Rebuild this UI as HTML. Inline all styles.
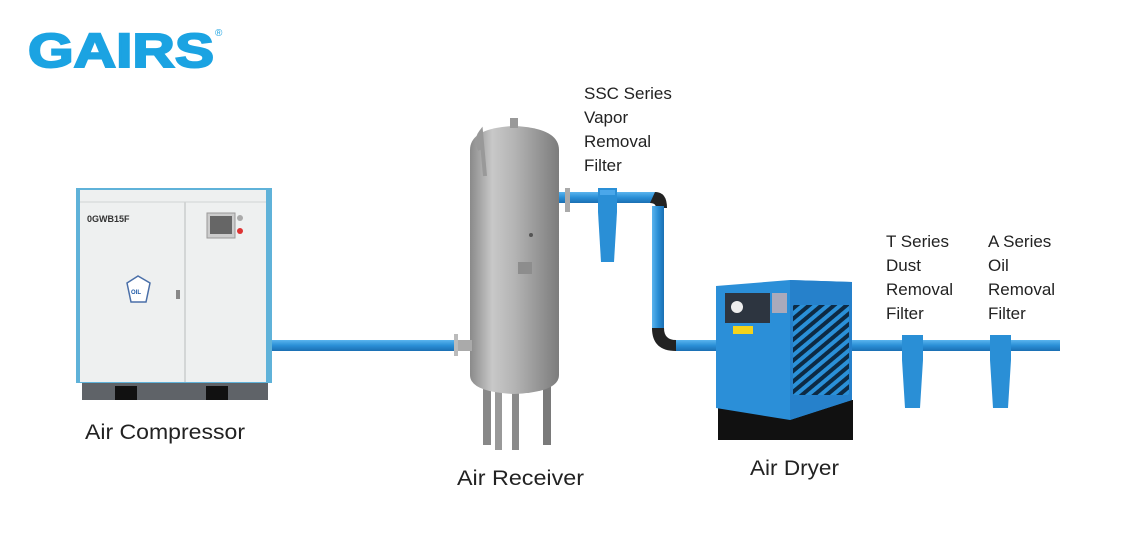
<!DOCTYPE html>
<html><head><style>
body{margin:0;background:#fff;}
svg{display:block}
text{font-family:"Liberation Sans",sans-serif;fill:#222}
</style></head><body>
<svg width="1140" height="550" viewBox="0 0 1140 550" xmlns="http://www.w3.org/2000/svg">
<defs>
<linearGradient id="tank" x1="0" x2="1">
<stop offset="0" stop-color="#8a8a8a"/><stop offset="0.25" stop-color="#c8c8c8"/><stop offset="0.5" stop-color="#b4b4b4"/><stop offset="1" stop-color="#7c7c7c"/></linearGradient>
<linearGradient id="pipe" x1="0" y1="0" x2="0" y2="1">
<stop offset="0" stop-color="#5ab4ee"/><stop offset="0.5" stop-color="#2a8fd6"/><stop offset="1" stop-color="#1b6fb3"/></linearGradient>
<linearGradient id="vpipe" x1="0" x2="1">
<stop offset="0" stop-color="#5ab4ee"/><stop offset="0.5" stop-color="#2a8fd6"/><stop offset="1" stop-color="#1b6fb3"/></linearGradient>
<pattern id="grill" width="8" height="8" patternUnits="userSpaceOnUse" patternTransform="rotate(-40)">
<rect width="8" height="8" fill="#2a90d8"/><rect width="8" height="4" fill="#0d2a44"/></pattern>
</defs>
<text x="28" y="67" font-size="48" font-weight="900" textLength="186" lengthAdjust="spacingAndGlyphs" style="fill:#1ba3e2;stroke:#1ba3e2;stroke-width:2">GAIRS</text>
<text x="215" y="36" font-size="10" style="fill:#1ba3e2">®</text>

<!-- compressor -->
<rect x="82" y="378" width="186" height="22" fill="#5f6368"/>
<rect x="115" y="386" width="22" height="14" fill="#111"/><rect x="206" y="386" width="22" height="14" fill="#111"/>
<rect x="76" y="188" width="196" height="195" fill="#5fb2d9"/>
<rect x="80" y="190" width="186" height="192" fill="#eef0f0"/>
<line x1="185" y1="202" x2="185" y2="382" stroke="#b8bcbc"/>
<line x1="80" y1="202" x2="266" y2="202" stroke="#d0d3d3"/>
<text x="87" y="222" font-size="9" font-weight="bold" style="fill:#333">0GWB15F</text>
<rect x="207" y="213" width="28" height="25" fill="#ccc" stroke="#999"/><rect x="210" y="216" width="22" height="18" fill="#666"/>
<circle cx="240" cy="218" r="3" fill="#aaa"/><circle cx="240" cy="231" r="3" fill="#d33"/>
<polygon points="127,283 138,276 150,283 146,302 131,302" fill="#fff" stroke="#4a6fa8" stroke-width="1.5"/>
<text x="131" y="294" font-size="6" font-weight="bold" style="fill:#1f5aa8">OIL</text>
<rect x="176" y="290" width="4" height="9" fill="#888"/>

<!-- pipe 1 -->
<rect x="272" y="340" width="186" height="11" fill="url(#pipe)"/>
<rect x="454" y="334" width="4" height="22" fill="#bbb"/>

<!-- receiver -->
<rect x="483" y="385" width="8" height="60" fill="#888"/><rect x="495" y="385" width="7" height="65" fill="#999"/><rect x="512" y="385" width="7" height="65" fill="#8a8a8a"/><rect x="543" y="385" width="8" height="60" fill="#7a7a7a"/>
<path d="M470 150 Q470 128 514 126 Q559 128 559 150 L559 375 Q559 392 514 394 Q470 392 470 375 Z" fill="url(#tank)"/>
<rect x="510" y="118" width="8" height="10" fill="#999"/>
<path d="M480 150 Q475 140 481 132 L485 176" stroke="#999" stroke-width="4" fill="none"/>
<rect x="518" y="262" width="14" height="12" fill="#8d8d8d"/>
<circle cx="531" cy="235" r="2" fill="#555"/>
<rect x="458" y="340" width="14" height="11" fill="#aaa"/>

<!-- top pipe -->
<rect x="559" y="192" width="98" height="11" fill="url(#pipe)"/>
<rect x="565" y="188" width="5" height="24" fill="#aaa"/>
<path d="M655 192 Q667 192 667 208 L656 208 Q656 203 650 203 Z" fill="#222"/>
<rect x="652" y="206" width="12" height="124" fill="url(#vpipe)"/>
<path d="M652 328 L664 328 Q664 340 676 340 L676 351 Q652 351 652 328 Z" fill="#222"/>
<rect x="676" y="340" width="42" height="11" fill="url(#pipe)"/>
<path d="M598 188 L617 188 L617 212 L614 262 L601 262 L598 212 Z" fill="#2a8fd6"/>
<rect x="600" y="190" width="15" height="5" fill="#4aa7ea"/>

<!-- dryer -->
<rect x="718" y="400" width="135" height="40" fill="#111"/>
<polygon points="716,286 790,280 852,282 852,400 790,420 716,408" fill="#2b8fd8"/>
<polygon points="790,280 852,282 852,400 790,420" fill="#2681cb"/>
<rect x="793" y="305" width="56" height="90" fill="url(#grill)"/>
<rect x="725" y="293" width="45" height="30" fill="#2d3540"/>
<circle cx="737" cy="307" r="6" fill="#eee"/>
<rect x="733" y="326" width="20" height="8" fill="#f3d31c"/>
<rect x="772" y="293" width="15" height="20" fill="#aab"/>

<!-- right pipe -->
<rect x="852" y="340" width="208" height="11" fill="url(#pipe)"/>
<path d="M902 335 L923 335 L923 360 L920 408 L905 408 L902 360 Z" fill="#2a8fd6"/>
<path d="M990 335 L1011 335 L1011 360 L1008 408 L993 408 L990 360 Z" fill="#2a8fd6"/>

<!-- labels -->
<g font-size="17">
<text x="584" y="99">SSC Series</text><text x="584" y="123">Vapor</text><text x="584" y="147">Removal</text><text x="584" y="171">Filter</text>
<text x="886" y="247">T Series</text><text x="886" y="271">Dust</text><text x="886" y="295">Removal</text><text x="886" y="319">Filter</text>
<text x="988" y="247">A Series</text><text x="988" y="271">Oil</text><text x="988" y="295">Removal</text><text x="988" y="319">Filter</text>
</g>
<g font-size="21">
<text x="85" y="439" textLength="160" lengthAdjust="spacingAndGlyphs">Air Compressor</text>
<text x="457" y="485" textLength="127" lengthAdjust="spacingAndGlyphs">Air Receiver</text>
<text x="750" y="475" textLength="89" lengthAdjust="spacingAndGlyphs">Air Dryer</text>
</g>
</svg>
</body></html>
